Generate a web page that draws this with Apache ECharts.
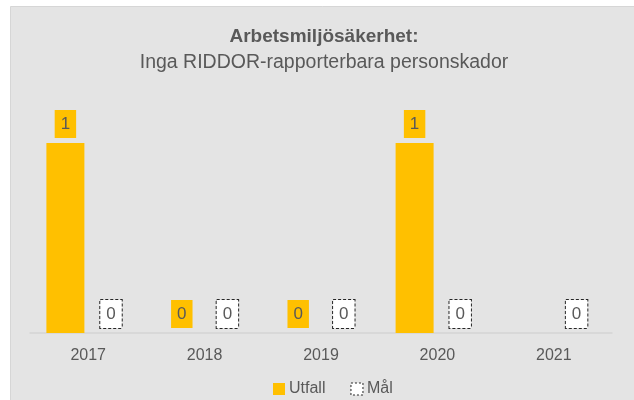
<!DOCTYPE html>
<html>
<head>
<meta charset="utf-8">
<script src="https://cdn.jsdelivr.net/npm/echarts@6/dist/echarts.min.js"></script>
<style>
  html, body { margin: 0; padding: 0; background: #fff; }
  #chart { width: 634px; height: 400px; }
</style>
</head>
<body>
<div id="chart"></div>
<script>
const years = ['2017', '2018', '2019', '2020', '2021']
const utfall = [1, 0, 0, 1, null]
const mal = [0, 0, 0, 0, 0]
const titleText = 'Arbetsmiljösäkerhet:'
const subText = 'Inga RIDDOR-rapporterbara personskador'

const textColor = '#595959'
const font = 'Liberation Sans'

const chart = echarts.init(document.getElementById('chart'))

const option = {
  backgroundColor: '#fff',
  animation: false,
  graphic: [{
    type: 'rect',
    z: -100,
    silent: true,
    shape: { x: 10.5, y: 6.5, width: 640, height: 410 },
    style: { fill: '#e4e4e4', stroke: '#d6d6d6', lineWidth: 1 }
  }],
  title: {
    text: titleText,
    subtext: subText,
    left: 319,
    textAlign: 'center',
    top: 20.5,
    itemGap: 4.5,
    textStyle: { fontFamily: font, fontSize: 19, fontWeight: 'bold', color: textColor, lineHeight: 22 },
    subtextStyle: { fontFamily: font, fontSize: 19.5, color: textColor, lineHeight: 22 }
  },
  legend: {
    left: 268,
    top: 376,
    itemWidth: 12,
    itemHeight: 12,
    itemGap: 25,
    textStyle: { fontFamily: font, fontSize: 16, color: textColor, lineHeight: 16, padding: [0, 0, 0, -1] },
    data: [
      { name: 'Utfall', icon: 'rect', itemStyle: { color: '#ffc000' } },
      {
        name: 'Mål',
        icon: 'rect',
        itemStyle: { color: '#ffffff', borderColor: '#262626', borderWidth: 1, borderType: [2, 2] }
      }
    ]
  },
  grid: { left: 30, right: 22, top: 143, bottom: 67 },
  xAxis: {
    type: 'category',
    data: years,
    axisLine: { lineStyle: { color: '#d4d4d4', width: 1.5 } },
    axisTick: { show: false },
    axisLabel: { fontFamily: font, fontSize: 16, color: textColor, margin: 15 }
  },
  yAxis: {
    type: 'value',
    min: 0,
    max: 1,
    show: false
  },
  series: [
    {
      name: 'Utfall',
      type: 'bar',
      data: utfall,
      barWidth: 38,
      barGap: '20%',
      itemStyle: { color: '#ffc000' },
      label: {
        show: true,
        position: 'top',
        distance: 5,
        fontFamily: font,
        fontSize: 17,
        lineHeight: 18,
        color: textColor,
        backgroundColor: '#ffc000',
        padding: [5, 6]
      }
    },
    {
      name: 'Mål',
      type: 'bar',
      data: mal,
      barWidth: 38,
      itemStyle: { color: 'transparent', borderWidth: 0 },
      label: {
        show: true,
        position: 'top',
        distance: 5,
        fontFamily: font,
        fontSize: 17,
        lineHeight: 18,
        color: textColor,
        backgroundColor: '#ffffff',
        borderColor: '#262626',
        borderWidth: 1,
        borderType: [3, 2],
        padding: [5, 6]
      }
    }
  ]
}

chart.setOption(option)
</script>
</body>
</html>
